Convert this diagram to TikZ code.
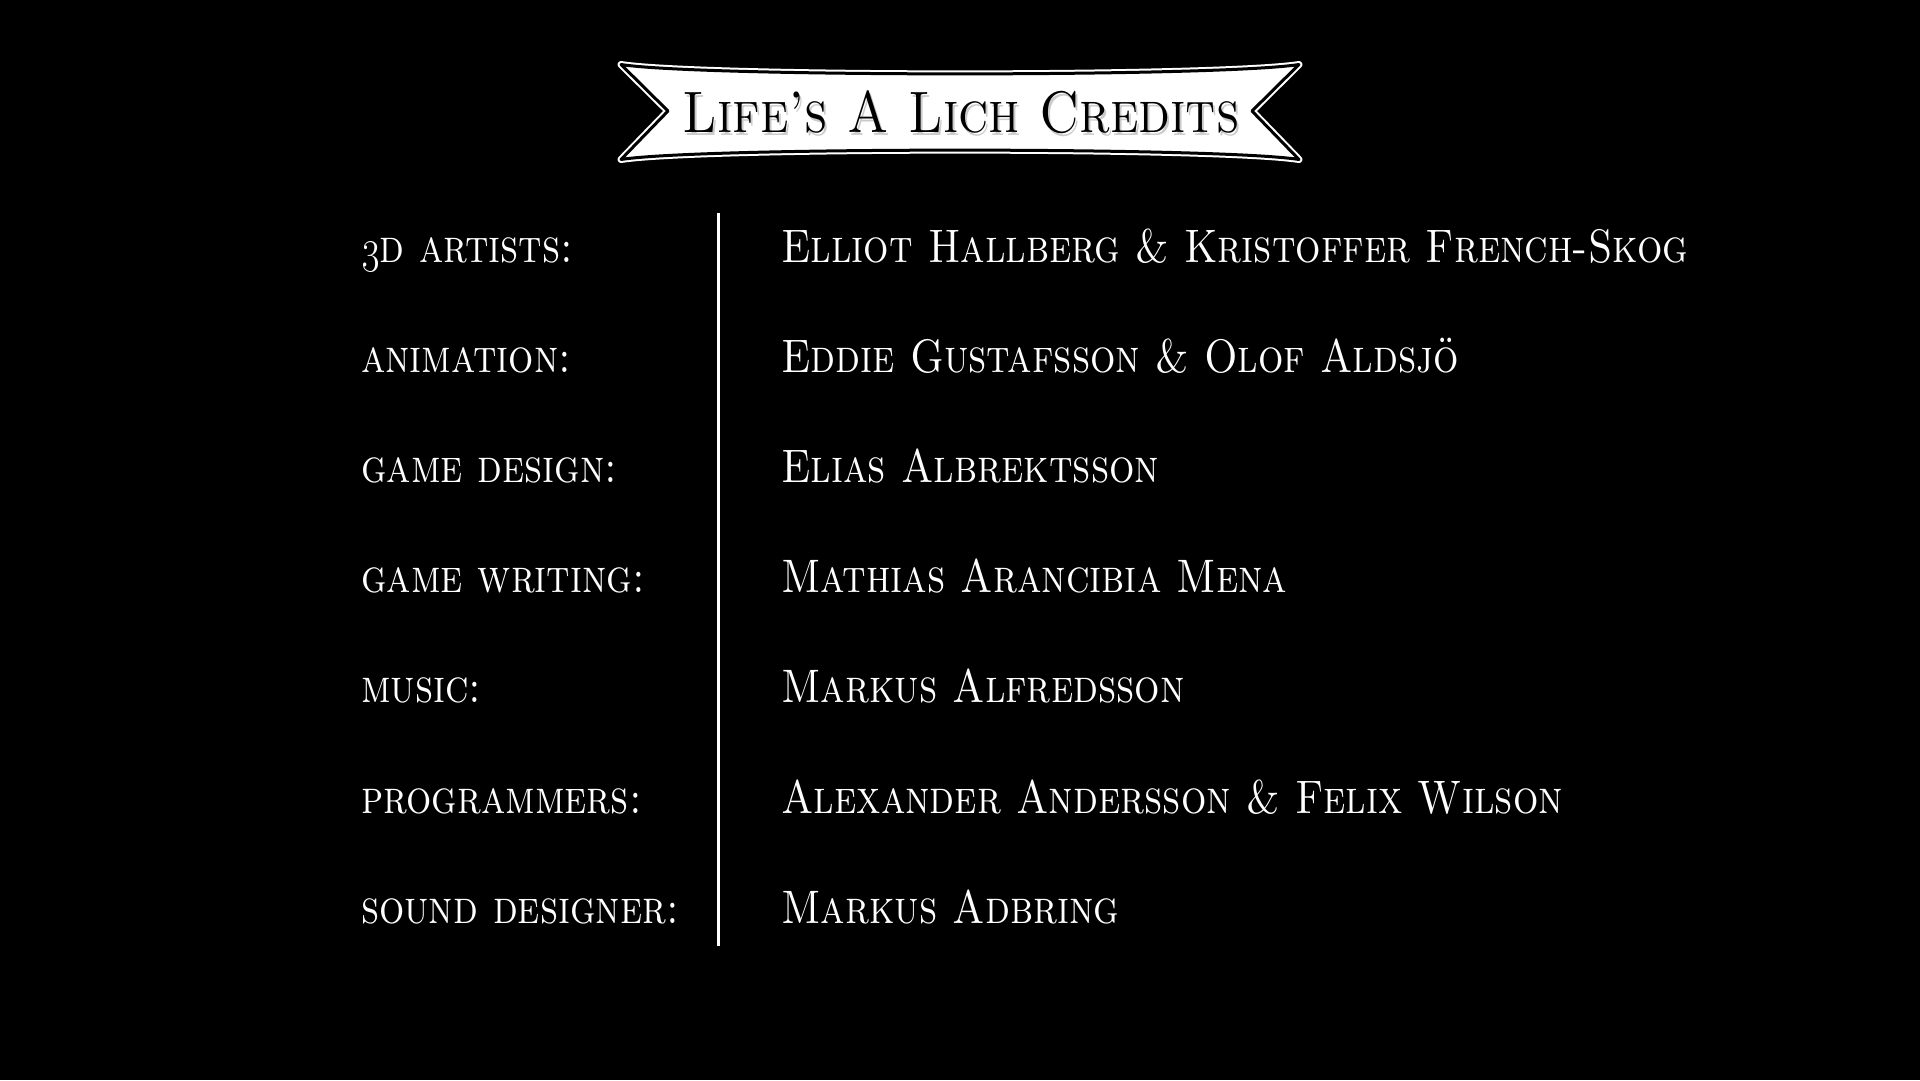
\documentclass[tikz,border=0pt]{standalone}
\usepackage{fix-cm}
\usepackage{graphicx}
\newcommand\hsq[2]{\scalebox{#1}[1]{#2}}
\begin{document}
\begin{tikzpicture}[x=1pt,y=-1pt,
  label/.style={anchor=base west,inner sep=0pt,text=white,font=\fontsize{47}{56}\selectfont\scshape},
  person/.style={anchor=base west,inner sep=0pt,text=white,font=\fontsize{47}{56}\selectfont\scshape},
  titletext/.style={anchor=base,inner sep=0pt,font=\fontsize{58.5}{70}\selectfont\scshape}]
\useasboundingbox[fill=black] (0,0) rectangle (1920,1080);
\def\bannershape{(621,64.5) .. controls (700,77) and (1220,77) .. (1299,64.5) -- (1252,111) -- (1299,159.5) .. controls (1220,147) and (700,147) .. (621,159.5) -- (668,111) -- cycle}
\draw[white,fill=white,line width=7,line join=round] \bannershape;
\draw[black,line width=3,line join=round] \bannershape;
\node[titletext,text=black!40,opacity=0.5] (titleshadow) at (963,135) {\hsq{0.872}{Life's A Lich Credits}};
\node[titletext,text=black] (title) at (961,132) {\hsq{0.872}{Life's A Lich Credits}};
\coordinate (divtop) at (718,212.5);
\coordinate (divbot) at (718,946);
\draw[white,line width=3] (divtop) -- (divbot);
\node[label] (l1) at (361,262) {\hsq{0.845}{\oldstylenums{3}d artists:}};
\node[label] (l2) at (361,372.2) {\hsq{0.845}{animation:}};
\node[label] (l3) at (361,482.4) {\hsq{0.845}{game design:}};
\node[label] (l4) at (361,592.6) {\hsq{0.845}{game writing:}};
\node[label] (l5) at (361,702.8) {\hsq{0.845}{music:}};
\node[label] (l6) at (361,813) {\hsq{0.845}{programmers:}};
\node[label] (l7) at (361,923.2) {\hsq{0.845}{sound designer:}};
\node[person] (n1) at (781,262) {\hsq{0.85}{Elliot Hallberg \& Kristoffer French-Skog}};
\node[person] (n2) at (781,372.2) {\hsq{0.85}{Eddie Gustafsson \& Olof Aldsj\"o}};
\node[person] (n3) at (781,482.4) {\hsq{0.85}{Elias Albrektsson}};
\node[person] (n4) at (781,592.6) {\hsq{0.85}{Mathias Arancibia Mena}};
\node[person] (n5) at (781,702.8) {\hsq{0.85}{Markus Alfredsson}};
\node[person] (n6) at (781,813) {\hsq{0.85}{Alexander Andersson \& Felix Wilson}};
\node[person] (n7) at (781,923.2) {\hsq{0.85}{Markus Adbring}};
\end{tikzpicture}
\end{document}
